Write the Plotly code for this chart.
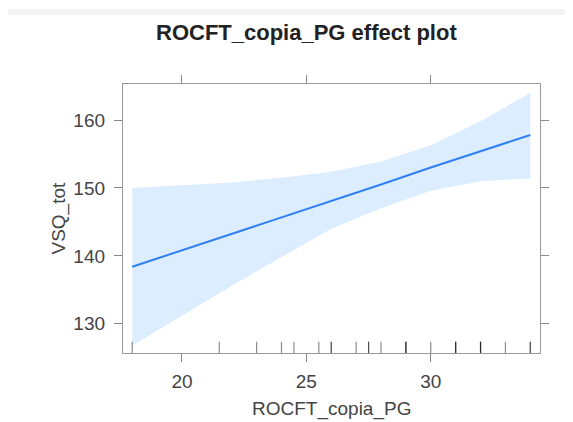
import plotly.graph_objects as go

# ---- data ----
x_vals = [18, 20, 22, 24, 26, 28, 30, 32, 34]
fit = [138.4, 140.8, 143.3, 145.7, 148.1, 150.5, 153.0, 155.4, 157.8]
upper = [150.0, 150.4, 150.8, 151.5, 152.4, 153.9, 156.3, 159.8, 164.0]
lower = [126.8, 131.2, 135.6, 139.8, 144.0, 147.0, 149.6, 151.0, 151.4]

rug_x = [18, 21.5, 23, 24, 24.5, 25.5, 26, 26, 27, 27.5, 27.5, 28,
         29, 29, 29, 30, 31, 31, 31, 32, 32, 32, 33, 34, 34]

x_ticks = [20, 25, 30]
y_ticks = [130, 140, 150, 160]

title_text = "ROCFT_copia_PG effect plot"
x_title = "ROCFT_copia_PG"
y_title = "VSQ_tot"

# ---- layout geometry (page body has an 8px default margin) ----
OFF = 8
W, H = 573 - 2 * OFF, 422 - OFF
# target plot box in reference pixels: x 123..540, y 84..353
L = 123 - OFF
T = 84 - OFF
R = W - (540 - OFF)
B = H - (353 - OFF)
plot_w = W - L - R
plot_h = H - T - B


def px_to_paper_x(px):
    return (px - OFF - L) / plot_w


def py_to_paper_y(py):
    return (H - B - (py - OFF)) / plot_h


fig = go.Figure()

fig.add_trace(go.Scatter(
    x=x_vals + x_vals[::-1], y=upper + lower[::-1],
    fill="toself", fillcolor="rgba(0,128,255,0.14)",
    line=dict(width=0), mode="lines", hoverinfo="skip", showlegend=False))

fig.add_trace(go.Scatter(
    x=x_vals, y=fit, mode="lines",
    line=dict(color="#2f80f5", width=2), showlegend=False))

shapes = []
for rx in rug_x:
    shapes.append(dict(type="line", xref="x", yref="y domain",
                       x0=rx, x1=rx, y0=0, y1=0.042,
                       line=dict(color="rgba(0,0,0,0.45)", width=1.2)))
# faint page border line at the very top
shapes.append(dict(type="rect", xref="paper", yref="paper",
                   x0=px_to_paper_x(7), x1=px_to_paper_x(565),
                   y0=py_to_paper_y(15), y1=py_to_paper_y(9),
                   fillcolor="#f3f3f3", line=dict(width=0), layer="below"))

FONT = "Liberation Sans, Arial, sans-serif"
axis_font = dict(family=FONT, size=19, color="#444")

fig.update_layout(
    width=W, height=H,
    margin=dict(l=L, r=R, t=T, b=B),
    paper_bgcolor="white", plot_bgcolor="white",
    shapes=shapes,
    showlegend=False,
    xaxis=dict(range=[17.63, 34.39], tickvals=x_ticks, ticks="outside",
               ticklen=8, tickcolor="#888", tickwidth=1,
               showline=True, linecolor="#999", linewidth=1.3, mirror="ticks",
               showgrid=False, zeroline=False, tickfont=axis_font,
               ticklabelstandoff=3),
    yaxis=dict(range=[125.7, 165.3], tickvals=y_ticks, ticks="outside",
               ticklen=8, tickcolor="#888", tickwidth=1,
               showline=True, linecolor="#999", linewidth=1.3, mirror="ticks",
               showgrid=False, zeroline=False, tickfont=axis_font,
               ticklabelstandoff=5),
    annotations=[
        dict(text="<b>" + title_text + "</b>", xref="paper", yref="paper",
             x=px_to_paper_x(306), y=py_to_paper_y(33), showarrow=False,
             xanchor="center", yanchor="middle",
             font=dict(family=FONT, size=22, color="#222")),
        dict(text=x_title, xref="paper", yref="paper",
             x=0.5, y=py_to_paper_y(409), showarrow=False,
             xanchor="center", yanchor="middle",
             font=dict(family=FONT, size=19, color="#444")),
        dict(text=y_title, xref="paper", yref="paper",
             x=px_to_paper_x(58), y=0.5, showarrow=False, textangle=-90,
             xanchor="center", yanchor="middle",
             font=dict(family=FONT, size=19, color="#444")),
    ],
)

fig.write_html("out.html")
